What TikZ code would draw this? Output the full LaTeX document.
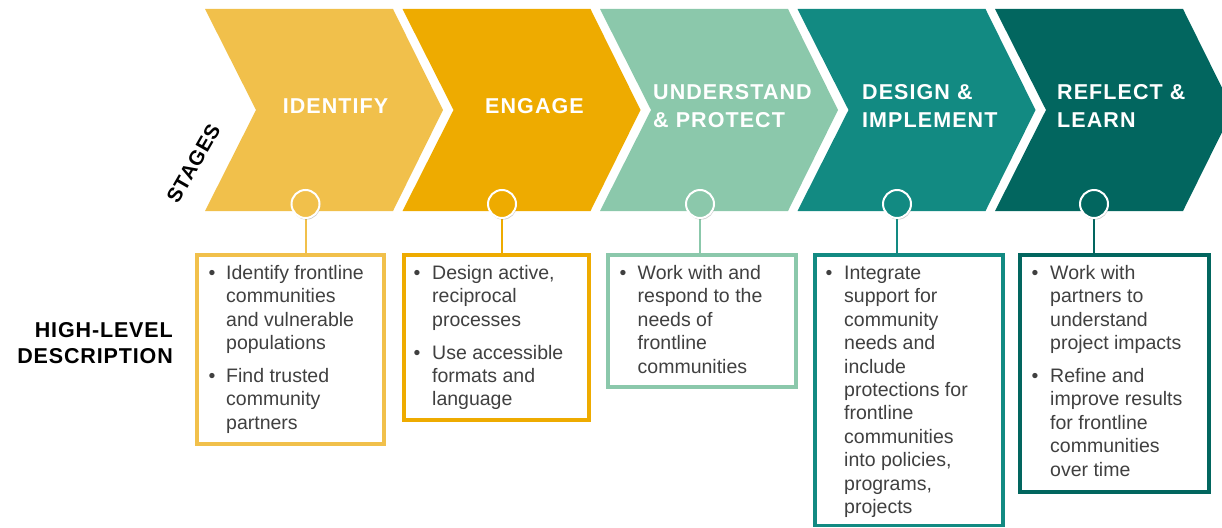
\documentclass[tikz,border=0pt]{standalone}
\usepackage{fontspec}
\setmainfont{Liberation Sans}
\usetikzlibrary{shadows}
\definecolor{cA}{HTML}{F1C04B}
\definecolor{cB}{HTML}{EEAB00}
\definecolor{cC}{HTML}{8BC8AB}
\definecolor{cD}{HTML}{128A82}
\definecolor{cE}{HTML}{02665F}
\definecolor{txtgray}{HTML}{404040}
\pgfdeclarelayer{bg}
\pgfsetlayers{bg,main}
\newcommand\ttlfont{\fontsize{21.5}{28}\selectfont\bfseries\addfontfeature{LetterSpace=5}}
\newcommand\lblfont{\fontsize{21.5}{26}\selectfont\bfseries\addfontfeature{LetterSpace=4}}
\newcommand\bodyfont{\fontsize{19.5}{23.4}\selectfont}
\tikzset{
  chev/.style={fill=#1},
  boxshape/.style={draw=#1, line width=3.5pt, fill=white, inner sep=0pt, anchor=north west},
  dot/.style={circle, fill=#1, draw=white, line width=2pt, minimum size=28pt, inner sep=0pt,
    drop shadow={opacity=0.4, shadow xshift=0.8pt, shadow yshift=-1.6pt}},
  conn/.style={draw=#1, line width=2pt},
  ttl/.style={text=white, inner sep=0pt, font=\ttlfont},
  lbl/.style={text=black, inner sep=0pt, font=\lblfont},
  txt/.style={text=txtgray, inner sep=0pt, font=\bodyfont, anchor=base west},
  bul/.style={text=txtgray, inner sep=0pt, font=\bodyfont, anchor=base},
}
\newcommand\bultext[3]{%
  \foreach \t/\yy [count=\i] in {#3} {
    \node[txt] (#1t\i) at (#2, {279.5+\yy*23.4}) {\t};
  }}
\begin{document}
\begin{tikzpicture}[x=1pt, y=-1pt]
\useasboundingbox (0,0) rectangle (1222,527);
\clip (0,0) rectangle (1222,527);
% chevrons
\foreach \col [count=\i] in {cA,cB,cC,cD,cE} {
  \pgfmathsetmacro\xo{205+(\i-1)*197.5}
  \fill[chev=\col] (\xo,9) -- ++(188,0) -- ++(50,101) -- ++(-50,101) -- ++(-188,0) -- ++(51,-101) -- cycle;
}
% titles
\node[ttl, anchor=base] (tA) at (335.5,113.5) {IDENTIFY};
\node[ttl, anchor=base] (tB) at (534.5,113.5) {ENGAGE};
\node[ttl, anchor=base west] (tC1) at (653,99) {UNDERSTAND};
\node[ttl, anchor=base west] (tC2) at (653,127) {\& PROTECT};
\node[ttl, anchor=base west] (tD1) at (862,99) {DESIGN \&};
\node[ttl, anchor=base west] (tD2) at (862,127) {IMPLEMENT};
\node[ttl, anchor=base west] (tE1) at (1057,99) {REFLECT \&};
\node[ttl, anchor=base west] (tE2) at (1057,127) {LEARN};
% side labels
\node[lbl, font=\fontsize{20.5}{24}\selectfont\bfseries\addfontfeature{LetterSpace=4}, rotate=60] (stg) at (193.5,163.5) {STAGES};
\node[lbl, anchor=base east] (hl1) at (173,337) {HIGH-LEVEL};
\node[lbl, anchor=base east] (hl2) at (173,363) {DESCRIPTION};
% boxes
\node[boxshape=cA, minimum width=187pt, minimum height=189pt] (bx1) at (195,253) {};
\node[boxshape=cB, minimum width=185pt, minimum height=165pt] (bx2) at (402,253) {};
\node[boxshape=cC, minimum width=188pt, minimum height=132pt] (bx3) at (606,253) {};
\node[boxshape=cD, minimum width=188pt, minimum height=270.5pt] (bx4) at (813,253) {};
\node[boxshape=cE, minimum width=189pt, minimum height=237pt] (bx5) at (1018,253) {};
% circles
\node[dot=cA] (c1) at (305.5,204) {};
\node[dot=cB] (c2) at (502,204) {};
\node[dot=cC] (c3) at (700,204) {};
\node[dot=cD] (c4) at (897,204) {};
\node[dot=cE] (c5) at (1094,204) {};
% connectors
\begin{pgfonlayer}{bg}
\draw[conn=cA] (c1.center) -- (c1.center |- bx1.north);
\draw[conn=cB] (c2.center) -- (c2.center |- bx2.north);
\draw[conn=cC] (c3.center) -- (c3.center |- bx3.north);
\draw[conn=cD] (c4.center) -- (c4.center |- bx4.north);
\draw[conn=cE] (c5.center) -- (c5.center |- bx5.north);
\end{pgfonlayer}
% box texts
\node[bul] (u1a) at (212,279.5) {•};
\node[bul] (u1b) at (212,{279.5+4.4*23.4}) {•};
\bultext{b1}{226}{Identify frontline/0, communities/1, and vulnerable/2, populations/3, Find trusted/4.4, community/5.4, partners/6.4}
\node[bul] (u2a) at (417,279.5) {•};
\node[bul] (u2b) at (417,{279.5+3.4*23.4}) {•};
\bultext{b2}{432}{{Design active,}/0, reciprocal/1, processes/2, Use accessible/3.4, formats and/4.4, language/5.4}
\node[bul] (u3a) at (623,279.5) {•};
\bultext{b3}{637.5}{Work with and/0, respond to the/1, needs of/2, frontline/3, communities/4}
\node[bul] (u4a) at (829,279.5) {•};
\bultext{b4}{844}{Integrate/0, support for/1, community/2, needs and/3, include/4, protections for/5, frontline/6, communities/7, {into policies,}/8, {programs,}/9, projects/10}
\node[bul] (u5a) at (1035,279.5) {•};
\node[bul] (u5b) at (1035,{279.5+4.4*23.4}) {•};
\bultext{b5}{1050}{Work with/0, partners to/1, understand/2, project impacts/3, Refine and/4.4, improve results/5.4, for frontline/6.4, communities/7.4, over time/8.4}
\end{tikzpicture}
\end{document}
